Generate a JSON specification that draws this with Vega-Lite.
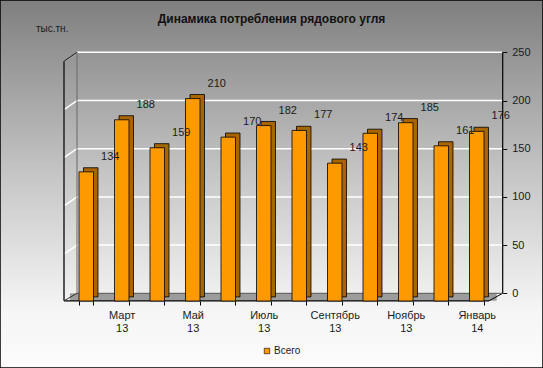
{
  "$schema": "https://vega.github.io/schema/vega-lite/v6.json",
  "width": 543,
  "height": 368,
  "autosize": {"type": "none"},
  "padding": 0,
  "background": "#ffffff",
  "config": {
    "font": "Liberation Sans",
    "view": {
      "fill": {"gradient": "linear", "x1": 0, "y1": 0, "x2": 0, "y2": 1,
        "stops": [
          {"offset": 0, "color": "#7f7f7f"},
          {"offset": 0.5, "color": "#c9c9c9"},
          {"offset": 0.85, "color": "#f6f6f6"},
          {"offset": 1, "color": "#fdfbfb"}
        ]},
      "stroke": "#000000",
      "strokeWidth": 1.5
    }
  },
  "title": {
    "text": "Динамика потребления рядового угля",
    "font": "Liberation Sans",
    "fontSize": 12,
    "fontWeight": "bold",
    "color": "#111111",
    "anchor": "middle",
    "offset": -26
  },
  "resolve": {"scale": {"x": "independent"}},
  "layer": [
    {
      "data": {"values": [{"g": 50}, {"g": 100}, {"g": 150}, {"g": 200}, {"g": 250}]},
      "layer": [
        {
          "data": {"values": [{}]},
          "mark": {"type": "rect", "color": "#9c9c9c"},
          "encoding": {
            "x": {"datum": -0.2, "type": "quantitative", "scale": {"domain": [-2.174, 13.158], "nice": false, "zero": false}, "axis": null},
            "x2": {"datum": 11.85},
            "y": {"datum": 0, "type": "quantitative", "scale": {"domain": [-77.5, 304.3], "nice": false, "zero": false},
              "axis": {"orient": "right", "values": [0, 50, 100, 150, 200, 250], "offset": -40.3, "domain": false, "grid": false,
                "ticks": true, "tickSize": 4, "tickColor": "#000000", "labelFontSize": 11, "labelColor": "#1a1a1a", "labelPadding": 5,
                "title": "тыс.тн.", "titleX": -451, "titleY": 28, "titleAngle": 0, "titleAlign": "center", "titleBaseline": "middle",
                "titleFontSize": 10, "titleFontWeight": "normal", "titleColor": "#1a1a1a"}},
            "y2": {"datum": -7.8}
          }
        },
        {
          "mark": {"type": "rule", "color": "#ffffff", "strokeWidth": 1.5},
          "encoding": {
            "x": {"datum": 0, "type": "quantitative", "axis": null},
            "x2": {"datum": 12},
            "y": {"field": "g", "type": "quantitative"}
          }
        },
        {
          "mark": {"type": "rule", "color": "#ffffff", "strokeWidth": 1.5, "yOffset": 9},
          "encoding": {
            "x": {"datum": -0.367, "type": "quantitative", "axis": null},
            "x2": {"datum": 0},
            "y": {"field": "g", "type": "quantitative"},
            "y2": {"field": "g"}
          }
        },
        {
          "data": {"values": [{}]},
          "layer": [
            {"mark": {"type": "rule", "color": "#000000", "strokeWidth": 1.2},
              "encoding": {"x": {"datum": -0.367, "type": "quantitative", "axis": null}, "x2": {"datum": 11.633}, "y": {"datum": -7.8, "type": "quantitative"}}},
            {"mark": {"type": "rule", "color": "#000000", "strokeWidth": 1},
              "encoding": {"x": {"datum": 11.633, "type": "quantitative", "axis": null}, "x2": {"datum": 12.02}, "y": {"datum": -7.8, "type": "quantitative"}, "y2": {"datum": 0}}},
            {"mark": {"type": "rule", "color": "#333333", "strokeWidth": 1},
              "encoding": {"x": {"datum": -0.367, "type": "quantitative", "axis": null}, "x2": {"datum": 0}, "y": {"datum": -7.8, "type": "quantitative"}, "y2": {"datum": 0}}},
            {"mark": {"type": "rule", "color": "#000000", "strokeWidth": 1.2},
              "encoding": {"x": {"datum": 12.02, "type": "quantitative", "axis": null}, "y": {"datum": 0, "type": "quantitative"}, "y2": {"datum": 250}}},
            {"mark": {"type": "rule", "color": "#222222", "strokeWidth": 1.5},
              "encoding": {"x": {"datum": -0.367, "type": "quantitative", "axis": null}, "y": {"datum": -7.8, "type": "quantitative"}, "y2": {"datum": 240.7}}},
            {"mark": {"type": "rule", "color": "#222222", "strokeWidth": 1.2},
              "encoding": {"x": {"datum": -0.367, "type": "quantitative", "axis": null}, "x2": {"datum": 0}, "y": {"datum": 240.7, "type": "quantitative"}, "y2": {"datum": 250}}},
            {"mark": {"type": "rule", "color": "#6a6a6a", "strokeWidth": 1},
              "encoding": {"x": {"datum": 0, "type": "quantitative", "axis": null}, "y": {"datum": 0, "type": "quantitative"}, "y2": {"datum": 250}}},
            {"mark": {"type": "rule", "color": "#555555", "strokeWidth": 1},
              "encoding": {"x": {"datum": 0, "type": "quantitative", "axis": null}, "x2": {"datum": 12}, "y": {"datum": 0, "type": "quantitative"}}}
          ]
        }
      ]
    },
    {
      "data": {"values": [
        {"month": "Февраль 13", "value": 134, "series": "Всего"},
        {"month": "Март 13", "value": 188, "series": "Всего"},
        {"month": "Апрель 13", "value": 159, "series": "Всего"},
        {"month": "Май 13", "value": 210, "series": "Всего"},
        {"month": "Июнь 13", "value": 170, "series": "Всего"},
        {"month": "Июль 13", "value": 182, "series": "Всего"},
        {"month": "Август 13", "value": 177, "series": "Всего"},
        {"month": "Сентябрь 13", "value": 143, "series": "Всего"},
        {"month": "Октябрь 13", "value": 174, "series": "Всего"},
        {"month": "Ноябрь 13", "value": 185, "series": "Всего"},
        {"month": "Декабрь 13", "value": 161, "series": "Всего"},
        {"month": "Январь 14", "value": 176, "series": "Всего"}
      ]},
      "layer": [
        {
          "mark": {"type": "bar", "color": "#a86500", "stroke": "#000000", "strokeWidth": 0.8, "xOffset": 4.5, "yOffset": 3.6, "y2Offset": 3.6},
          "encoding": {
            "x": {"field": "month", "type": "nominal", "sort": null,
              "scale": {"range": [61.25, 501.75], "paddingInner": 0.592, "paddingOuter": 0.5, "align": 0.5},
              "axis": {"orient": "bottom", "offset": -67, "title": null, "domain": false, "ticks": true, "tickBand": "extent",
                "tickSize": 4, "tickColor": "#000000", "labelAngle": 0, "labelFontSize": 11, "labelColor": "#1a1a1a",
                "labelPadding": 4, "labelLineHeight": 13.5, "labelBaseline": "top",
                "labelExpr": "indexof(['Март 13','Май 13','Июль 13','Сентябрь 13','Ноябрь 13','Январь 14'], datum.label) >= 0 ? split(datum.label, ' ') : ''"}},
            "y": {"field": "value", "type": "quantitative"},
            "y2": {"datum": 0}
          }
        },
        {
          "mark": {"type": "bar", "stroke": "#000000", "strokeWidth": 0.8, "yOffset": 7.7, "y2Offset": 7.7},
          "encoding": {
            "x": {"field": "month", "type": "nominal", "sort": null},
            "y": {"field": "value", "type": "quantitative"},
            "y2": {"datum": 0},
            "color": {"field": "series", "type": "nominal", "scale": {"range": ["#ff9900"]},
              "legend": {"orient": "none", "legendX": 262, "legendY": 346, "title": null, "symbolType": "square", "symbolSize": 30,
                "symbolStrokeColor": "#000000", "symbolStrokeWidth": 0.6, "labelFontSize": 10, "labelColor": "#1a1a1a", "labelOffset": 2}}
          }
        },
        {
          "mark": {"type": "text", "fontSize": 11, "color": "#1a1a1a", "dx": 24, "dy": -15, "yOffset": 7.7, "baseline": "middle", "align": "center"},
          "encoding": {
            "x": {"field": "month", "type": "nominal", "sort": null},
            "y": {"field": "value", "type": "quantitative"},
            "text": {"field": "value", "type": "quantitative"}
          }
        }
      ]
    }
  ]
}
